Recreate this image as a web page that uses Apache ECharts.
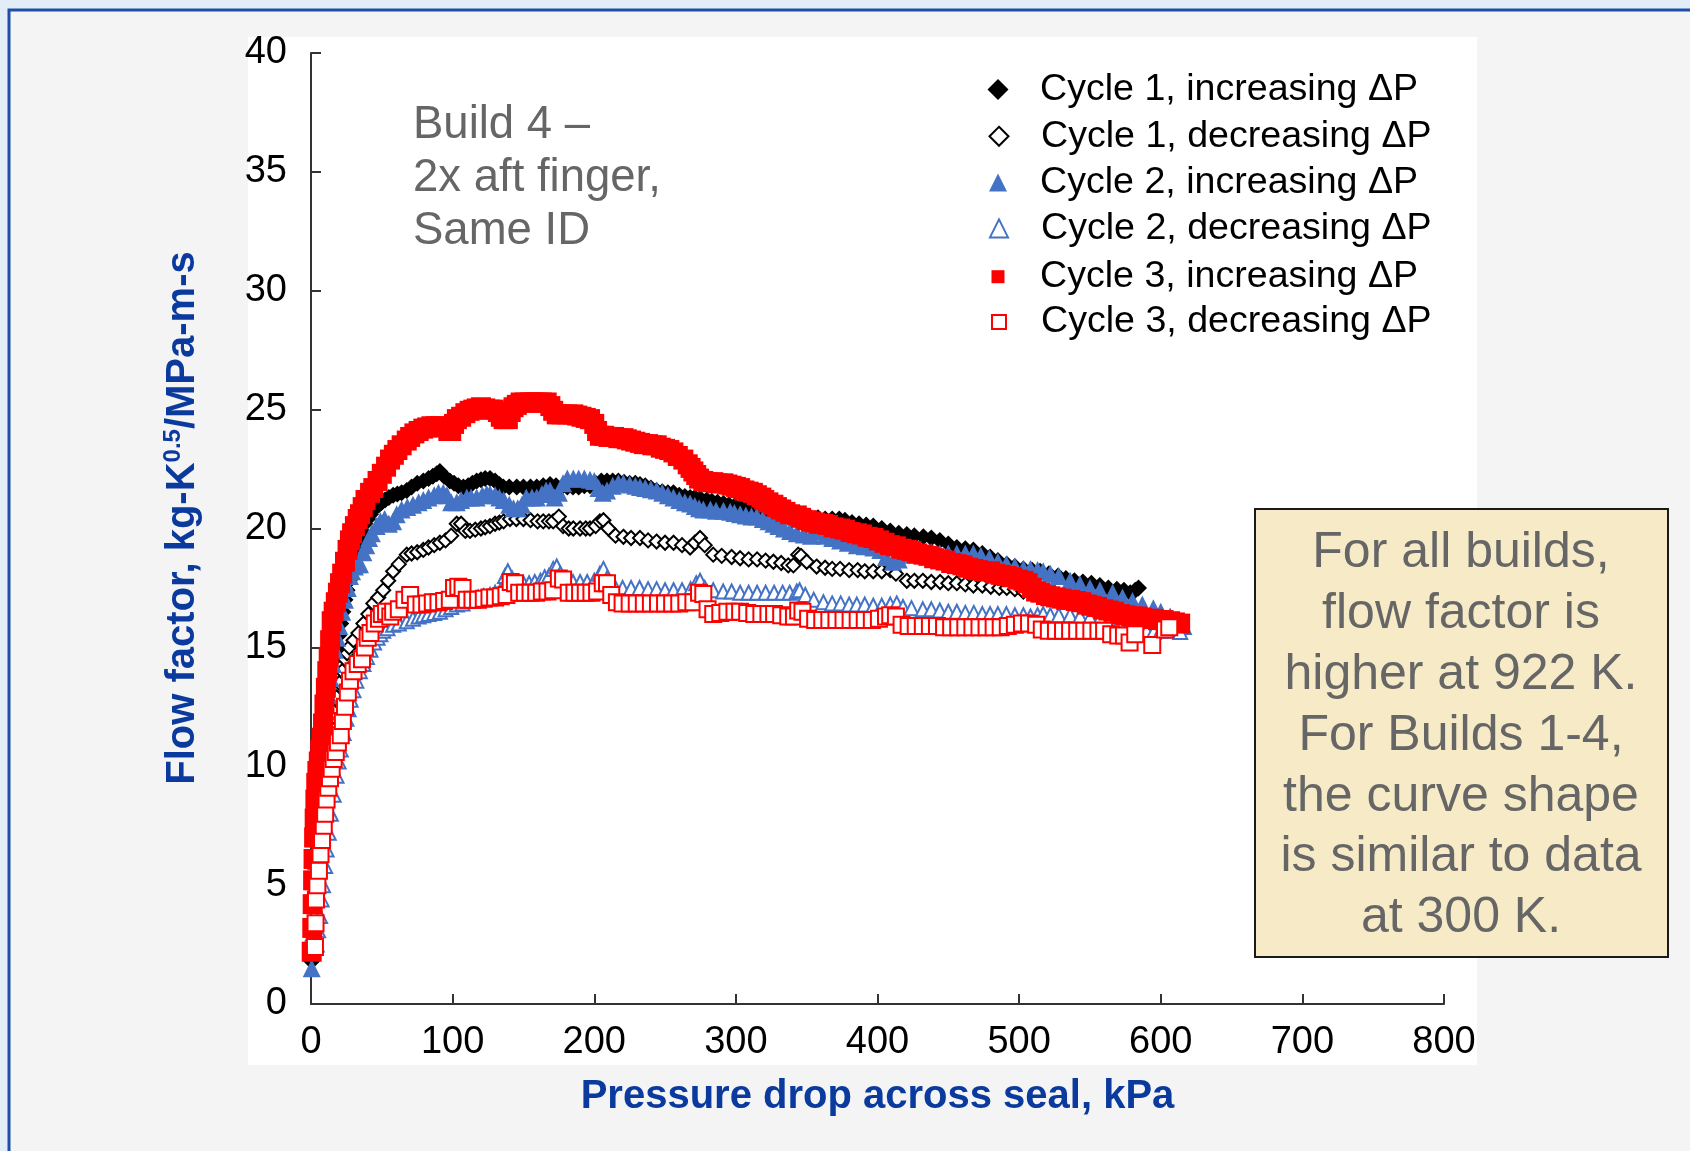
<!DOCTYPE html>
<html><head><meta charset="utf-8">
<script src="https://cdn.jsdelivr.net/npm/echarts@6/dist/echarts.min.js"></script>
<style>html,body{margin:0;padding:0;background:#e3edf8;}#chart{width:1690px;height:1151px;}</style>
</head><body><div id="chart"></div>
<script>
// ---------- DATA ----------
const seriesNames = [
  'Cycle 1, increasing \u0394P',
  'Cycle 1, decreasing \u0394P',
  'Cycle 2, increasing \u0394P',
  'Cycle 2, decreasing \u0394P',
  'Cycle 3, increasing \u0394P',
  'Cycle 3, decreasing \u0394P'
];
const xAxisRange = [0, 800, 100];
const yAxisRange = [0, 40, 5];
const xTitle = 'Pressure drop across seal, kPa';
const buildNote = ['Build 4 \u2013', '2x aft finger,', 'Same ID'];
const boxNote = ['For all builds,', 'flow factor is', 'higher at 922 K.', 'For Builds 1-4,', 'the curve shape', 'is similar to data', 'at 300 K.'];

const c1Inc = [[0.5,1.8],[1,3],[2,5],[3,7],[4,8.5],[5,9.4],[6,10],[7,10.6],[8,11],[9,11.5],[10,12],[11,12.5],[12,13],[13.5,13.5],[15,14],[16.5,14.5],[18,15],[19.5,15.5],[21,16],[22.5,16.5],[24,17],[25.5,17.4],[27,17.8],[28.5,18.2],[30,18.5],[31.5,18.9],[33,19.3],[34.6,19.6],[36,19.9],[38,20.2],[40,20.4],[42,20.6],[44,20.8],[46,20.9],[48,21.0],[50,21.1],[52.3,21.2],[55,21.3],[58,21.4],[61,21.45],[64,21.5],[67.6,21.6],[71,21.75],[75,21.9],[79.3,22.0],[83,22.1],[86,22.2],[88.8,22.3],[91,22.4],[94,22.2],[98,22.0],[101,21.9],[104,21.8],[107.6,21.75],[111,21.8],[114,21.9],[117,22.0],[120,22.05],[123,22.1],[126.4,22.1],[130,22.0],[133,21.85],[135.8,21.75],[140,21.75],[145.3,21.75],[150,21.75],[155,21.75],[159.4,21.75],[164,21.8],[168.8,21.85],[173,21.8],[177,21.75],[181,21.75],[185,21.75],[189,21.75],[193,21.8],[197,21.8],[201,21.9],[205,22.0],[209,22.0],[213,22.0],[217,22.0],[221,21.95],[225,21.9],[229,21.9],[232.3,21.85],[236,21.8],[240,21.7],[244,21.6],[248,21.55],[252,21.5],[255.9,21.5],[260,21.4],[264,21.35],[267.7,21.3],[271,21.3],[275,21.25],[279.4,21.2],[283,21.15],[287,21.1],[291.2,21.05],[295,21.0],[299,20.95],[303,20.9],[307,20.85],[311,20.85],[314.8,20.8],[319,20.7],[323,20.65],[326.5,20.6],[331,20.55],[335,20.5],[338.3,20.5],[343,20.5],[348,20.45],[353,20.45],[358,20.45],[363,20.4],[368,20.4],[373,20.4],[377,20.35],[382,20.25],[387,20.2],[392,20.15],[397,20.1],[403,20.0],[409,19.9],[415,19.8],[420.7,19.75],[426,19.7],[432.4,19.65],[438,19.6],[444,19.5],[450,19.35],[456,19.2],[462,19.15],[467.7,19.1],[474,18.95],[479.5,18.8],[485,18.65],[491.3,18.5],[497,18.4],[503,18.3],[509,18.25],[514.8,18.2],[521,18.1],[527.5,18.0],[533,17.9],[539,17.8],[545,17.75],[551,17.7],[557,17.6],[563,17.5],[569,17.45],[574,17.4],[578.4,17.3],[582,17.4],[584.3,17.5]];

const c1Dec = [[2,3],[3,4.2],[4,5],[5,5.8],[6,6.5],[7,7.2],[8,8],[9,8.7],[10,9.5],[11.5,10.2],[13,11],[14.5,11.6],[16,12.3],[18,12.9],[20,13.5],[22,14.0],[24,14.5],[25.5,14.75],[27,15.0],[30,15.3],[33.5,15.6],[37,16.0],[40.5,16.4],[44,16.85],[47.5,17.1],[51,17.4],[54.5,17.8],[58,18.2],[62,18.5],[67.6,18.9],[71,18.95],[75,19.0],[79.3,19.1],[83,19.2],[87,19.3],[91,19.4],[95,19.5],[99,19.7],[102.9,20.2],[106,20.2],[109,19.9],[112.3,19.9],[116,19.95],[120,20.0],[123,20.05],[126.4,20.1],[130,20.2],[133,20.25],[136,20.3],[140.5,20.4],[145,20.4],[150,20.4],[155,20.35],[160,20.3],[164,20.3],[168,20.3],[171,20.3],[175,20.5],[178,20.1],[182,20.0],[185.2,20.0],[190,20.0],[194,20.0],[197,20.0],[201,20.1],[204,20.3],[206.5,20.35],[210,20.0],[215,19.7],[220.6,19.65],[226,19.6],[232.3,19.6],[238,19.5],[244,19.45],[250,19.4],[256,19.4],[262,19.3],[267.7,19.2],[271,19.4],[274.7,19.6],[278,19.3],[284,18.9],[290,18.85],[297,18.8],[303,18.75],[309,18.7],[315,18.7],[321,18.65],[326.5,18.6],[332,18.55],[337,18.45],[340.6,18.45],[344,18.9],[346,18.85],[350,18.6],[357,18.4],[363,18.35],[368,18.3],[373.6,18.3],[380,18.25],[386,18.25],[391,18.2],[397,18.2],[403,18.2],[409,18.25],[413,18.1],[420.7,17.8],[426,17.8],[432,17.8],[438,17.75],[444.2,17.75],[450,17.7],[456,17.7],[462,17.65],[467.7,17.6],[474,17.6],[480,17.55],[486,17.5],[491.3,17.5],[497,17.45],[503,17.35],[507.8,17.3]];

const c2Inc = [[0.5,1.5],[1.5,3],[2.5,4.5],[3.5,6],[4.5,7.5],[5.5,8.5],[6.5,9.5],[8,10.5],[9.5,11.5],[11,12.3],[12.5,13],[14,13.7],[15.5,14.3],[17,14.9],[18.5,15.4],[20,15.9],[22,16.5],[24,17.0],[26,17.5],[27.5,18.0],[29,18.2],[31,18.4],[33,18.5],[34.6,18.5],[37,19.0],[39,19.3],[41,19.6],[43,19.8],[46.4,20.1],[49,20.3],[52,20.4],[55,20.2],[58,20.3],[60.5,20.6],[64,20.8],[68,20.9],[72,21.0],[76,21.1],[79.3,21.2],[83,21.3],[87,21.4],[90,21.5],[93.4,21.5],[96,21.4],[99,21.1],[102.9,21.1],[106,21.2],[110,21.3],[113,21.3],[117,21.3],[121,21.4],[124,21.45],[126.4,21.45],[130,21.4],[133,21.3],[136,21.2],[140,21.0],[143,20.85],[146,20.85],[149,21.0],[152,21.3],[156,21.3],[159.4,21.3],[163,21.45],[166,21.6],[168.8,21.6],[172,21.3],[175,21.5],[178,21.9],[181,22.1],[185.2,22.1],[189,22.1],[193,22.1],[197,22.05],[200,22.0],[203,21.7],[206,21.5],[209,21.6],[213,21.8],[217,21.9],[220.6,21.9],[225,21.85],[229,21.8],[232.3,21.75],[236,21.7],[240,21.65],[244.1,21.6],[248,21.5],[252,21.4],[255.9,21.3],[260,21.2],[264,21.1],[267.7,21.05],[271,20.95],[274,20.85],[277,20.8],[282,20.8],[286,20.75],[291.2,20.75],[296,20.7],[299,20.65],[303,20.6],[307,20.55],[311,20.5],[314.8,20.5],[319,20.4],[323,20.3],[326.5,20.2],[330,20.1],[334,20.0],[338.3,19.9],[343,19.8],[348,19.75],[353,19.7],[358,19.9],[363,19.7],[368,19.6],[373.6,19.5],[379,19.4],[385.4,19.3],[391,19.25],[397,19.2],[402,19.1],[406,18.8],[411,18.6],[415,18.7],[420,18.9],[426,19.0],[432,19.0],[438,19.0],[444,18.95],[450,18.95],[456,18.95],[462,18.95],[467.7,18.95],[473,18.85],[479,18.75],[485,18.6],[491,18.5],[497,18.4],[503,18.3],[508,18.3],[513,18.25],[517,18.2],[522,18.1],[528,18.0],[536,17.8],[543,17.65],[550,17.5],[557,17.4],[566,17.3],[573,17.1],[580,16.95],[587,16.8],[594.8,16.65],[600,16.5],[606.6,16.3],[611,16.1],[616,15.9]];

const c2Dec = [[4,2.5],[5,3.1],[6.4,3.7],[7.5,4.4],[8.5,5.0],[10,5.8],[11,6.5],[12.5,7.2],[14,8.0],[16,8.8],[18,9.6],[19.5,10.2],[21,10.7],[23,11.4],[25,12.0],[26.5,12.4],[28,12.8],[30,13.2],[32,13.6],[34.5,14.0],[37,14.3],[39.5,14.6],[42,14.9],[44.5,15.2],[47,15.4],[49,15.55],[51,15.7],[54,15.8],[58,15.95],[62,16.0],[67.6,16.1],[72,16.2],[76,16.3],[79.3,16.35],[83,16.4],[87,16.45],[91,16.5],[95,16.6],[99,16.7],[103,16.8],[107,16.85],[111,16.95],[114.6,17.0],[118,17.1],[122,17.15],[126.4,17.2],[130,17.3],[134,17.4],[137,18.0],[139,18.2],[142,17.9],[146,17.7],[150,17.7],[154,17.7],[158,17.75],[162,17.8],[165,17.95],[168,18.0],[171,18.3],[173.5,18.4],[176,18.1],[180,17.8],[185,17.75],[190,17.75],[195,17.75],[200,17.8],[204,18.1],[206.5,18.3],[209,17.9],[214,17.6],[220,17.5],[226,17.5],[232,17.5],[238,17.45],[244,17.45],[250,17.4],[256,17.4],[262,17.4],[268,17.45],[272,17.7],[274.7,17.8],[278,17.5],[284,17.4],[291,17.35],[297,17.35],[303,17.3],[309,17.3],[315,17.3],[321,17.3],[327,17.3],[333,17.3],[338,17.3],[343,17.35],[345,17.4],[349,17.2],[355,17.0],[361.8,16.9],[368,16.85],[374,16.85],[380,16.8],[385.4,16.8],[391,16.8],[397,16.75],[403,16.75],[409,16.8],[413.6,16.85],[418,16.7],[424,16.65],[432,16.6],[438,16.6],[444,16.55],[450,16.5],[456,16.5],[462,16.45],[468,16.45],[474,16.4],[479.5,16.4],[485,16.4],[491,16.4],[497,16.35],[503,16.35],[508,16.3],[513,16.35],[517,16.4],[522,16.35],[528,16.35],[536,16.35],[543,16.3],[550,16.25],[557,16.2],[564,16.15],[571,16.1],[578,16.0],[585,15.85],[590,15.7],[595,15.65],[600,15.7],[606,15.7],[613.7,15.65]];

const c3Inc = [[0.5,2.2],[0.9,3.2],[1.2,4.2],[1.5,5.2],[1.8,6.1],[2.2,7.0],[2.6,7.8],[3.1,8.6],[3.7,9.3],[4.5,9.8],[5.5,10.2],[6.5,10.7],[7.5,11.2],[8.5,11.8],[9.5,12.6],[10.5,13.3],[11.5,14.0],[12.5,14.6],[13.5,15.3],[14.6,16.1],[16,16.5],[17.5,16.9],[19,17.3],[20.5,17.7],[22,18.1],[24,18.6],[25.8,19.1],[27.5,19.5],[29,19.8],[31,20.1],[33,20.4],[34.6,20.6],[36.5,20.9],[38.5,21.2],[41.7,21.5],[44,21.7],[47,22.0],[50,22.3],[53,22.6],[55.8,22.9],[58.5,23.1],[61,23.3],[64,23.5],[67.6,23.7],[70,23.85],[73,24.0],[76,24.1],[79.3,24.2],[82,24.25],[85,24.3],[88,24.3],[91,24.3],[94,24.25],[97,24.1],[99,24.1],[101,24.4],[103,24.6],[106,24.7],[109,24.85],[112,24.95],[114.6,25.0],[117,25.05],[120,25.1],[123,25.05],[126.4,25.0],[129,25.0],[132,24.9],[134,24.7],[136,24.6],[139,24.6],[141,24.9],[143,25.1],[145.3,25.2],[148,25.3],[151,25.3],[154.7,25.3],[157,25.3],[160,25.3],[163,25.3],[166.4,25.3],[169,25.15],[171,24.95],[173.5,24.8],[177,24.8],[181,24.8],[185.2,24.8],[188,24.75],[191,24.7],[194,24.65],[197,24.6],[200,24.4],[202,24.1],[204,23.9],[207,23.9],[210,23.85],[214,23.85],[217,23.8],[220.6,23.8],[223,23.75],[226,23.7],[229,23.65],[232.3,23.6],[235,23.55],[238,23.55],[241,23.5],[244.1,23.5],[247,23.4],[250,23.35],[253,23.3],[255.9,23.2],[259,23.05],[262.9,22.9],[266,22.7],[268,22.55],[270,22.4],[272,22.25],[274,22.1],[277,22.0],[280,21.95],[284,21.95],[287,21.9],[291.2,21.9],[294,21.85],[297,21.8],[300,21.75],[303,21.7],[306,21.6],[309,21.55],[312,21.5],[314.8,21.4],[318,21.3],[320,21.2],[323,21.1],[326.5,21.0],[329,20.9],[332,20.8],[335,20.7],[338.3,20.6],[343,20.55],[346,20.45],[350,20.35],[353,20.3],[356,20.25],[359,20.2],[361.8,20.2],[365,20.15],[369,20.05],[373.6,20.0],[377,19.95],[381,19.85],[385.4,19.8],[389,19.75],[393,19.65],[397.1,19.6],[401,19.5],[405,19.4],[408.9,19.3],[413,19.25],[417,19.15],[420.7,19.1],[424,19.05],[428,18.95],[432.4,18.9],[436,18.85],[440,18.75],[444.2,18.7],[448,18.65],[452,18.55],[456,18.5],[460,18.45],[464,18.35],[467.7,18.3],[471,18.25],[475,18.2],[479.5,18.2],[483,18.1],[487,18.05],[491.3,18.0],[495,17.95],[499,17.85],[503,17.8],[506,17.7],[509,17.5],[512,17.35],[515,17.3],[519,17.2],[522,17.15],[526,17.1],[530,17.05],[533,17.0],[536,17.0],[540,16.95],[544,16.9],[547.8,16.8],[551,16.75],[555,16.7],[559.5,16.6],[563,16.55],[567,16.5],[571.3,16.4],[575,16.35],[579,16.3],[583.1,16.3],[587,16.25],[591,16.2],[594.8,16.2],[598,16.15],[602,16.15],[606.6,16.1],[610,16.05],[613.7,16.0]];

const c3Dec = [[2.8,2.4],[3.2,3.4],[3.5,4.4],[4.5,5.0],[5.6,5.6],[6.7,6.3],[7.8,6.9],[9,7.5],[10,8.0],[11,8.6],[12.2,9.1],[13.4,9.5],[14.6,9.9],[16,10.3],[17.5,10.6],[19,11.0],[21,11.3],[22.5,11.9],[24,12.5],[26,13.1],[27.5,13.6],[30,14.0],[33,14.3],[36,14.5],[38,15.0],[40,15.4],[42,15.6],[45,16.0],[48,16.2],[50,16.4],[53,16.5],[56,16.3],[58,16.5],[62,16.6],[66,17.0],[70,17.2],[74,16.8],[78,16.8],[82,16.85],[86,16.9],[90,16.9],[94,16.95],[98,17.0],[101,17.5],[104,17.55],[107,17.5],[110,17.0],[114,17.0],[118,17.0],[122,17.05],[126,17.1],[130,17.1],[134,17.15],[138,17.2],[141,17.75],[144,17.7],[147,17.3],[151,17.3],[155,17.3],[159,17.3],[163,17.35],[167,17.35],[171,17.4],[175,17.9],[178,17.85],[182,17.3],[186,17.3],[190,17.3],[194,17.3],[198,17.3],[202,17.35],[206,17.7],[209,17.7],[212,17.2],[216,16.9],[220,16.85],[225,16.85],[230,16.85],[235,16.85],[240,16.85],[245,16.85],[250,16.85],[255,16.85],[260,16.85],[265,16.9],[270,16.9],[274,17.3],[277,17.25],[280,16.6],[284,16.4],[289,16.45],[294,16.5],[299,16.5],[303,16.5],[308,16.45],[313,16.4],[318,16.4],[323,16.4],[327,16.4],[332,16.35],[337,16.3],[341,16.3],[344,16.55],[347,16.5],[351,16.2],[356,16.15],[361,16.15],[366,16.15],[371,16.15],[376,16.15],[381,16.15],[386,16.15],[391,16.15],[396,16.15],[401,16.2],[406,16.3],[409,16.35],[413,16.3],[417,15.95],[422,15.9],[427,15.9],[432,15.9],[437,15.9],[442,15.9],[447,15.85],[452,15.85],[457,15.85],[462,15.85],[467,15.85],[472,15.85],[477,15.85],[482,15.85],[487,15.85],[492,15.9],[497,15.95],[502,16.0],[507,16.0],[512,15.95],[516,15.75],[521,15.7],[526,15.7],[531,15.7],[536,15.7],[541,15.7],[546,15.7],[551,15.7],[556,15.7],[560,15.7],[565,15.55],[570,15.5],[574,15.5],[578,15.2],[582,15.55],[594,15.1],[603,15.75],[606,15.85]];

const seriesData = [c1Inc, c1Dec, c2Inc, c2Dec, c3Inc, c3Dec];

// ---------- STYLE ----------
const FONT = '"Liberation Sans", Arial, sans-serif';
const TITLE_BLUE = '#0a3a9e';
const BLUE = '#4472c4';
const styles = [
  { symbol: 'diamond',       size: 17, color: '#000000', legendSize: 21 },
  { symbol: 'emptyDiamond',  size: 14, color: '#000000', legendSize: 19, border: 1.5 },
  { symbol: 'triangle',      size: 18, color: BLUE,      legendSize: 18 },
  { symbol: 'emptyTriangle', size: 14, color: BLUE,      legendSize: 18, border: 1.5 },
  { symbol: 'rect',          size: 20, color: '#ff0000', legendSize: 13 },
  { symbol: 'emptyRect',     size: 16, color: '#ff0000', legendSize: 14, border: 1.8 }
];

const chart = echarts.init(document.getElementById('chart'), null, { renderer: 'canvas' });

const legends = seriesNames.map((name, i) => {
  const s = styles[i].legendSize;
  const cy = 81 + i * 45.8;
  return {
    data: [name],
    orient: 'vertical',
    left: 998 - s / 2,
    top: cy - s / 2,
    padding: 0,
    itemWidth: s,
    itemHeight: s,
    selectedMode: false,
    textStyle: { fontSize: 37.6, fontFamily: FONT, color: '#000', padding: [0, 0, 0, 37 - s / 2] }
  };
});

const series = seriesNames.map((name, i) => ({
  name: name,
  type: 'scatter',
  data: seriesData[i],
  symbol: styles[i].symbol,
  symbolSize: styles[i].size,
  itemStyle: styles[i].border ? { color: styles[i].color, borderWidth: styles[i].border, opacity: 1 } : { color: styles[i].color, opacity: 1 },
  z: 2 + i,
  silent: true,
  animation: false
}));

const option = {
  backgroundColor: '#e3edf8',
  animation: false,
  textStyle: { fontFamily: FONT },
  grid: { left: 311, top: 53, width: 1133, height: 951, containLabel: false, outerBoundsMode: 'none' },
  xAxis: {
    type: 'value', min: xAxisRange[0], max: xAxisRange[1], interval: xAxisRange[2],
    name: xTitle, nameLocation: 'middle', nameGap: 73,
    nameTextStyle: { fontSize: 40, fontWeight: 'bold', color: TITLE_BLUE, fontFamily: FONT, lineHeight: 40 },
    axisLine: { show: true, onZero: false, lineStyle: { color: '#333', width: 2 } },
    axisTick: { show: true, inside: true, length: 10, lineStyle: { color: '#333', width: 2 } },
    axisLabel: { fontSize: 38, color: '#000', fontFamily: FONT, margin: 20, showMinLabel: true, showMaxLabel: true },
    splitLine: { show: false }
  },
  yAxis: {
    type: 'value', min: yAxisRange[0], max: yAxisRange[1], interval: yAxisRange[2],
    name: '{a|Flow factor, kg-K}{s|0.5}{a|/MPa-m-s}', nameLocation: 'middle', nameGap: 106,
    nameTextStyle: {
      padding: [0, 0, 0, 21],
      rich: {
        a: { fontSize: 40, fontWeight: 'bold', color: TITLE_BLUE, fontFamily: FONT, lineHeight: 44 },
        s: { fontSize: 24, fontWeight: 'bold', color: TITLE_BLUE, fontFamily: FONT, lineHeight: 22, verticalAlign: 'top' }
      }
    },
    axisLine: { show: true, onZero: false, lineStyle: { color: '#333', width: 2 } },
    axisTick: { show: true, inside: true, length: 10, lineStyle: { color: '#333', width: 2 } },
    axisLabel: { fontSize: 38, color: '#000', fontFamily: FONT, margin: 24, padding: [7, 0, 0, 0], showMinLabel: true, showMaxLabel: true },
    splitLine: { show: false }
  },
  legend: legends,
  graphic: [
    { type: 'rect', z: -20, silent: true, shape: { x: 9, y: 10, width: 1720, height: 1200 },
      style: { fill: '#f4f4f4', stroke: '#1f4ea8', lineWidth: 3 } },
    { type: 'rect', z: -10, silent: true, shape: { x: 248, y: 37, width: 1229, height: 1028 },
      style: { fill: '#ffffff' } },
    { type: 'text', z: 50, silent: true, x: 413, y: 99,
      style: { text: buildNote.join('\n'), font: '45.5px ' + FONT, fill: '#666666', lineHeight: 53 } },
    { type: 'rect', z: 60, silent: true, shape: { x: 1255, y: 509, width: 413, height: 448 },
      style: { fill: '#f7ebc7', stroke: '#1a1a1a', lineWidth: 2 } },
    { type: 'text', z: 61, silent: true, x: 1461, y: 736,
      style: { text: boxNote.join('\n'), font: '50px ' + FONT, fill: '#666666', lineHeight: 60.8, align: 'center', verticalAlign: 'middle' } }
  ],
  series: series
};
chart.setOption(option);
</script>
</body></html>
